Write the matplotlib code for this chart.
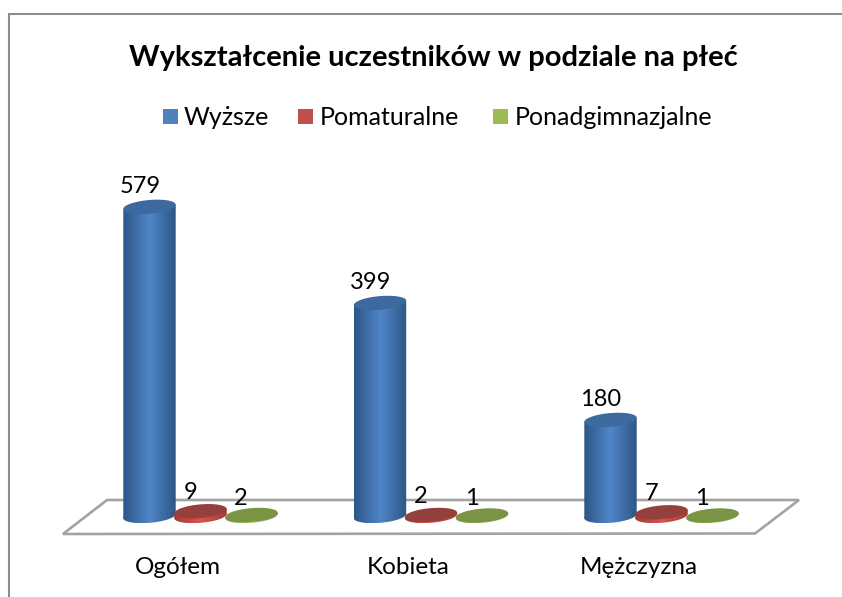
import numpy as np
import matplotlib
matplotlib.use("Agg")
import matplotlib.pyplot as plt
from matplotlib.patches import Polygon, Rectangle
from matplotlib.colors import LinearSegmentedColormap

categories = ["Ogółem", "Kobieta", "Mężczyzna"]
series_names = ["Wyższe", "Pomaturalne", "Ponadgimnazjalne"]
wyzsze = [579, 399, 180]
pomaturalne = [9, 2, 7]
ponadgimnazjalne = [2, 1, 1]
all_series = [wyzsze, pomaturalne, ponadgimnazjalne]

W, H = 842, 597
X0, DX, SER = 200.5, 230.5, 51.0   # px of category centre, px per category, px per series
Y0, KY = 516.0, 0.534              # px of value 0, px per value unit

plt.rcParams["font.family"] = ["Lato", "DejaVu Sans"]
fig = plt.figure(figsize=(W / 100, H / 100), dpi=100)
ax = fig.add_axes([0, 0, 1, 1])
ax.set_xlim(-X0 / DX, (W - X0) / DX)
ax.set_ylim(-(H - Y0) / KY, Y0 / KY)
ax.axis("off")

px = lambda x: (x - X0) / DX
py = lambda y: (Y0 - y) / KY

# outer frame: only the top and left edges fall inside the image
ax.plot([px(9), px(9), px(842)], [py(597), py(14), py(14)], color="#8c8c8c", lw=1.5,
        solid_joinstyle="miter", zorder=0.5)
# floor
floor = [(63, 534), (107, 500), (799, 500), (755, 533.5)]
ax.add_patch(Polygon([(px(a), py(b)) for a, b in floor], closed=True, fc="white",
                     ec="#a3a3a3", lw=1.9, joinstyle="miter", zorder=1))

R, r, TILT = 26.3, 6.8, np.radians(5.0)
t = np.linspace(0, 2 * np.pi, 121)

def ellipse(xc, val):
    ex = R * np.cos(t) * np.cos(TILT) + r * np.sin(t) * np.sin(TILT)
    ey = R * np.cos(t) * np.sin(TILT) - r * np.sin(t) * np.cos(TILT)
    return np.c_[xc + ex / DX, val + ey / KY]

styles = [
    dict(edge="#2d5686", mid="#5086c8", top="#3c6a9f"),
    dict(edge="#a33a37", mid="#d9544f", top="#94403d"),
    dict(edge="#7d9a40", mid="#a4c45e", top="#7a9446"),
]
label_dx = [-9.5, -10, -10.5]
label_dy = [10, 8, 6]

for s, values in enumerate(all_series):
    cmap = LinearSegmentedColormap.from_list("c", [styles[s]["edge"], styles[s]["mid"], styles[s]["edge"]])
    for i, v in enumerate(values):
        xc = i + (s - 1) * SER / DX
        z = 3 + s * 0.1 + i
        base, top = ellipse(xc, 0), ellipse(xc, v)
        body = np.vstack([base, top])
        lo, hi = body[:, 0].min(), body[:, 0].max()
        ymin, ymax = body[:, 1].min(), body[:, 1].max()
        grad = np.linspace(0, 1, 128)[None, :]
        quad = [base[0], top[0], top[60], base[60]]
        for shape in (base, quad):
            im = ax.imshow(grad, extent=[lo, hi, ymin, ymax], cmap=cmap, aspect="auto", zorder=z)
            im.set_clip_path(Polygon(shape, closed=True, transform=ax.transData))
        ax.add_patch(Polygon(top, closed=True, fc=styles[s]["top"], ec="none", zorder=z + 0.01))
        ax.text(xc + label_dx[s] / DX, v + label_dy[s] / KY, str(v),
                ha="center", va="bottom", fontsize=17, color="black", zorder=20)

ax.set_xlim(-X0 / DX, (W - X0) / DX)
ax.set_ylim(-(H - Y0) / KY, Y0 / KY)

# category labels
for i, c in enumerate(categories):
    ax.text(i - 22.5 / DX, py(567.5), c, ha="center", va="center", fontsize=17.5, color="black", zorder=20)

# title
ax.text(px(433), py(58), "Wykształcenie uczestników w podziale na płeć", ha="center", va="center",
        fontsize=21, fontweight="bold", color="black", zorder=20)

# legend
leg_x = [162.5, 298, 493]
leg_c = ["#4f81bd", "#c0504d", "#9bbb59"]
for x, name, col in zip(leg_x, series_names, leg_c):
    ax.add_patch(Rectangle((px(x), py(124)), 15 / DX, 15 / KY, fc=col, ec="none", zorder=20))
    ax.text(px(x + 21.5), py(117.5), name, ha="left", va="center", fontsize=18, color="black", zorder=20)

fig.savefig("out.png", dpi=100)
